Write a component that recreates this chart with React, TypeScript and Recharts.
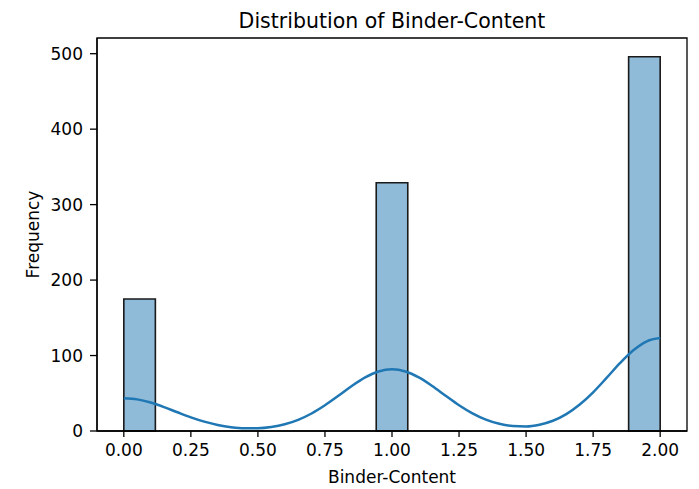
import { ComposedChart, Line, ReferenceArea, XAxis, YAxis } from "recharts"

// histogram: 17 equal bins over the observed range
const binMin = 0
const binMax = 2
const binCounts = [175, 0, 0, 0, 0, 0, 0, 0, 329, 0, 0, 0, 0, 0, 0, 0, 496]

// kde curve, scaled to counts
const kdeX = [
  0, 0.05, 0.1, 0.15, 0.2, 0.25, 0.3, 0.35, 0.4, 0.45, 0.5, 0.55, 0.6, 0.65,
  0.7, 0.75, 0.8, 0.85, 0.9, 0.95, 1.0, 1.05, 1.1, 1.15, 1.2, 1.25, 1.3, 1.35,
  1.4, 1.45, 1.5, 1.55, 1.6, 1.65, 1.7, 1.75, 1.8, 1.85, 1.9, 1.95, 2.0,
]
const kdeY = [
  43.4, 41.9, 37.7, 31.7, 24.8, 18.1, 12.4, 8.0, 5.1, 3.7, 3.8, 5.4, 8.9, 14.8,
  23.2, 34.1, 46.6, 59.6, 71.0, 78.9, 81.7, 78.9, 71.0, 59.6, 46.7, 34.1, 23.3,
  15.0, 9.5, 6.6, 6.1, 8.4, 13.6, 22.4, 35.1, 51.3, 70.3, 89.9, 107.0, 118.9,
  123.1,
]

const xTicks = [0, 0.25, 0.5, 0.75, 1.0, 1.25, 1.5, 1.75, 2.0]
const yTicks = [0, 100, 200, 300, 400, 500]

const FONT = "DejaVu Sans"
const BAR_FILL = "#8fbbd9"
const LINE_COLOR = "#1f77b4"

const binWidth = (binMax - binMin) / binCounts.length
const bins = binCounts.map((count, i) => ({
  x0: binMin + i * binWidth,
  x1: binMin + (i + 1) * binWidth,
  count,
}))
const kdeRows = kdeX.map((x, i) => ({ x, kde: kdeY[i] }))

const xDomain: [number, number] = [-0.1, 2.1]
const yDomain: [number, number] = [0, Math.max(...binCounts) * 1.05]

const tickStyle = { fontFamily: FONT, fontSize: 17, fill: "#000" }

export default function App() {
  return (
    <div style={{ position: "absolute", left: 0, top: 0, width: 699, height: 489, background: "#fff" }}>
      <svg width={699} height={40} style={{ position: "absolute", left: 0, top: 0 }}>
        <text x={392} y={28} textAnchor="middle" fontFamily={FONT} fontSize={20.5} fill="#000">
          Distribution of Binder-Content
        </text>
      </svg>
      <div style={{ position: "absolute", left: 0, top: 0 }}>
        <ComposedChart
          width={699}
          height={489}
          data={kdeRows}
          margin={{ top: 38, right: 12, bottom: 0, left: 0 }}
        >
          <XAxis
            dataKey="x"
            type="number"
            domain={xDomain}
            ticks={xTicks}
            allowDataOverflow
            tickFormatter={(v: number) => v.toFixed(2)}
            tick={tickStyle}
            tickSize={6}
            tickMargin={7}
            height={58}
            stroke="#000"
            tickLine={{ stroke: "#000", strokeWidth: 1.3 }}
            axisLine={{ stroke: "#000", strokeWidth: 1.3 }}
            label={{
              content: ({ viewBox }: any) => (
                <text
                  x={viewBox.x + viewBox.width / 2}
                  y={483}
                  textAnchor="middle"
                  fontFamily={FONT}
                  fontSize={17}
                  fill="#000"
                >
                  Binder-Content
                </text>
              ),
            }}
          />
          <YAxis
            type="number"
            domain={yDomain}
            ticks={yTicks}
            allowDataOverflow
            tick={tickStyle}
            tickSize={7}
            tickMargin={7}
            width={97}
            stroke="#000"
            tickLine={{ stroke: "#000", strokeWidth: 1.3 }}
            axisLine={{ stroke: "#000", strokeWidth: 1.3 }}
            label={{
              content: () => (
                <text
                  x={39}
                  y={234.5}
                  textAnchor="middle"
                  transform="rotate(-90 39 234.5)"
                  fontFamily={FONT}
                  fontSize={17}
                  fill="#000"
                >
                  Frequency
                </text>
              ),
            }}
          />
          {bins
            .filter((b) => b.count > 0)
            .map((b, i) => (
              <ReferenceArea
                key={`bin-${i}`}
                x1={b.x0}
                x2={b.x1}
                y1={0}
                y2={b.count}
                fill={BAR_FILL}
                fillOpacity={1}
                stroke="#1a1a1a"
                strokeWidth={1.6}
                strokeOpacity={1}
              />
            ))}
          {/* plot frame */}
          <ReferenceArea
            x1={xDomain[0]}
            x2={xDomain[1]}
            y1={yDomain[0]}
            y2={yDomain[1]}
            fill="none"
            stroke="#000"
            strokeWidth={1.3}
            strokeOpacity={1}
          />
          <Line
            type="monotone"
            dataKey="kde"
            stroke={LINE_COLOR}
            strokeWidth={2.5}
            dot={false}
            activeDot={false}
            isAnimationActive={false}
          />
        </ComposedChart>
      </div>
    </div>
  )
}
